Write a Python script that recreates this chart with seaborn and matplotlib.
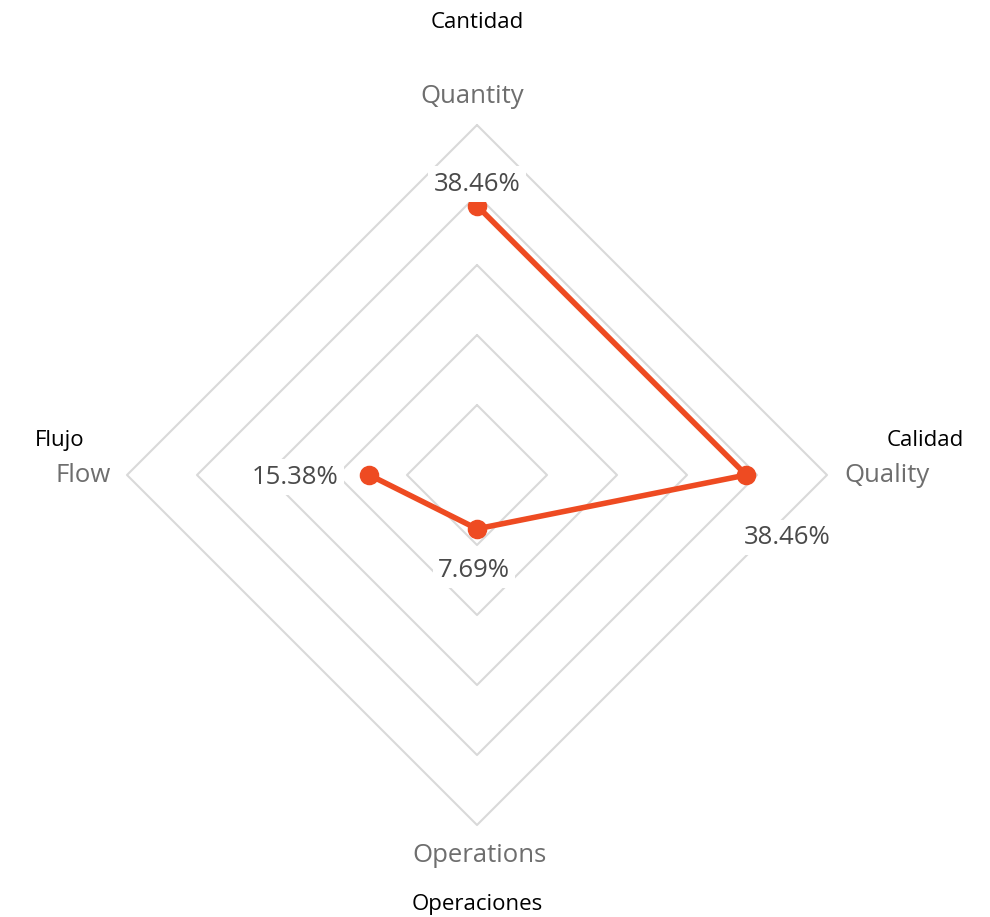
import numpy as np
import pandas as pd
import matplotlib
matplotlib.use("Agg")
import matplotlib.pyplot as plt
import seaborn as sns

# ---- data ----
categories = ["Quantity", "Quality", "Operations", "Flow"]
spanish = ["Cantidad", "Calidad", "Operaciones", "Flujo"]
values = [38.46, 38.46, 7.69, 15.38]
value_labels = ["38.46%", "38.46%", "7.69%", "15.38%"]
grid_levels = [10, 20, 30, 40, 50]

sns.set_theme(style="white")
plt.rcParams['font.family'] = ['Open Sans', 'DejaVu Sans']

fig = plt.figure(figsize=(9.9, 9.17), dpi=100)
ax = fig.add_axes([0, 0, 1, 1])

# angles: Quantity up, Quality right, Operations down, Flow left
angles = np.deg2rad([90, 0, -90, 180])

# grid diamonds
for lv in grid_levels:
    gx = [lv * np.cos(a) for a in angles] + [lv * np.cos(angles[0])]
    gy = [lv * np.sin(a) for a in angles] + [lv * np.sin(angles[0])]
    ax.plot(gx, gy, color="#d9d9d9", lw=1.5, zorder=1)

xs = [v * np.cos(a) for v, a in zip(values, angles)]
ys = [v * np.sin(a) for v, a in zip(values, angles)]
df = pd.DataFrame({"x": xs + [xs[0]], "y": ys + [ys[0]], "order": range(5)})
red = "#ee4b22"
sns.lineplot(data=df, x="x", y="y", sort=False, color=red, lw=4, ax=ax, zorder=3)
sns.scatterplot(data=df.iloc[:4], x="x", y="y", color=red, s=170, edgecolor=red,
                ax=ax, zorder=4)

# value labels (with white background)
offsets = [(0, 3.1), (5.8, -8.9), (-0.4, -5.9), (-10.6, -0.3)]
for x, y, lab, (dx, dy) in zip(xs, ys, value_labels, offsets):
    ax.text(x + dx, y + dy, lab, ha="center", va="center", fontsize=18.5,
            color="#4a4a4a",
            bbox=dict(boxstyle="square,pad=0.2", fc="white", ec="none"), zorder=5)

# english axis labels (gray)
eng_pos = [(-0.7, 54.1), (58.6, 0), (0.4, -54.3), (-56.3, 0)]
for (px, py), lab in zip(eng_pos, categories):
    ax.text(px, py, lab, ha="center", va="center", fontsize=18.5, color="#6e6e6e")

# spanish labels (black)
sp_pos = [(0, 64.7), (64.1, 4.9), (0.1, -61.3), (-59.6, 4.9)]
for (px, py), lab in zip(sp_pos, spanish):
    ax.text(px, py, lab, ha="center", va="center", fontsize=16, color="black")

ax.set_xlim(-477 / 7, 513 / 7)
ax.set_ylim(-442 / 7, 475 / 7)
ax.axis("off")
fig.savefig("out.png", dpi=100, facecolor="white")
